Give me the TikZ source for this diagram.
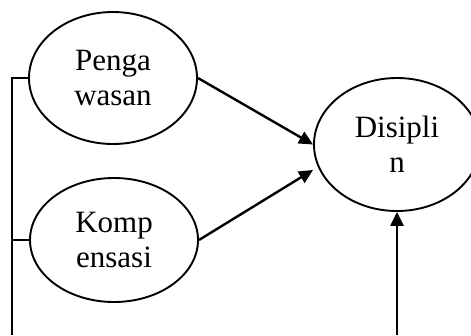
\documentclass[tikz,border=0pt]{standalone}
\usepackage{fontspec}
\setmainfont{Liberation Serif}
\usetikzlibrary{arrows.meta,shapes.geometric}

\begin{document}
\begin{tikzpicture}[x=1pt,y=-1pt,
    var/.style={draw, ellipse, line width=1.9pt, inner sep=0pt,
      align=center, font=\fontsize{31}{35}\selectfont},
    link/.style={line width=2.4pt, -{Triangle[length=14pt,width=13pt]}},
    tie/.style={line width=1.6pt}]
    \useasboundingbox (0,0) rectangle (471,335);
    \node[var, minimum width=168pt, minimum height=132pt] (peng) at (113,78) {Penga\\wasan};
    \node[var, minimum width=168pt, minimum height=124pt] (komp) at (114,240) {Komp\\ensasi};
    \node[var, minimum width=166pt, minimum height=133pt] (disp) at (397,144.5) {Disipli\\n};
    % free ends
    \coordinate (dlow) at (313,170);
    \coordinate (bot) at (397,335);
    \coordinate (lbot) at (12,335);
    \coordinate (ltop) at (12,78);
    \coordinate (lmid) at (12,240);
    \draw[link] (peng.east) -- (disp.west);
    \draw[link] (komp.east) -- (dlow);
    \draw[link] (bot) -- (disp.south);
    \draw[tie] (lbot) -- (ltop) -- (peng.west);
    \draw[tie] (lmid) -- (komp.west);
\end{tikzpicture}
\end{document}
